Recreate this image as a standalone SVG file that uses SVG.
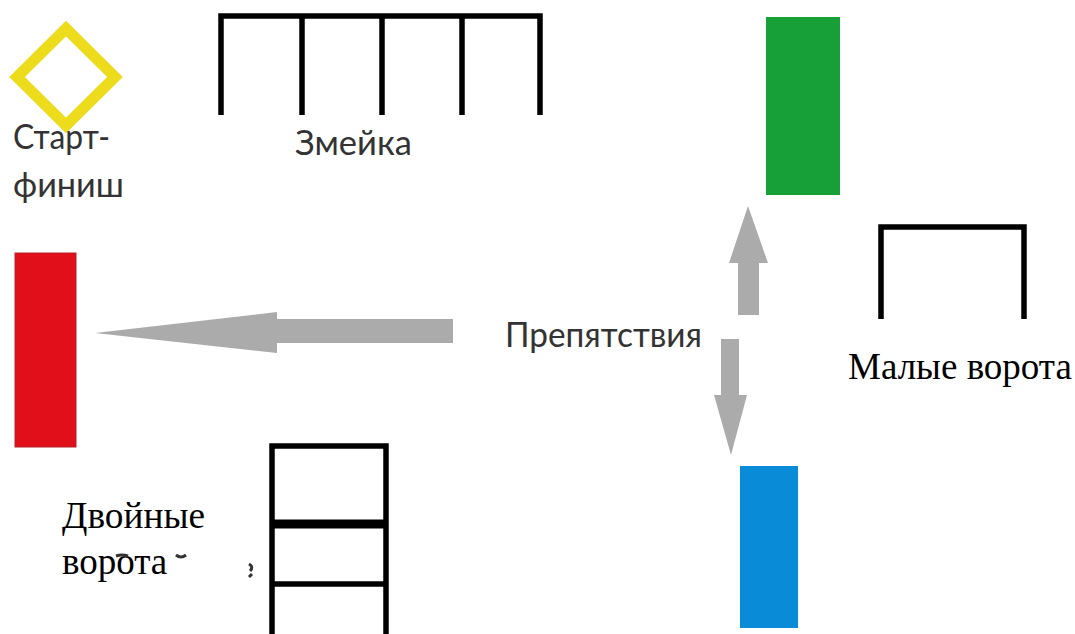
<svg xmlns="http://www.w3.org/2000/svg" width="1075" height="634" viewBox="0 0 1075 634">
<style>
.gate{fill:none;stroke:#000;stroke-width:5.5;stroke-linecap:butt;stroke-linejoin:miter}
.arrow{fill:#ababab}
.sans{font-family:Lato,"Noto Sans","Liberation Sans",sans-serif;font-size:34px;fill:#333}
.serif{font-family:"Liberation Serif",serif;font-size:37px;fill:#000}
</style>
<rect width="1075" height="634" fill="#fff"/>
<g id="start-finish">
<polygon points="66,28.5 115,77 66,125.5 17,77" fill="none" stroke="#eddc1c" stroke-width="11"/>
<text class="sans" x="13" y="149" textLength="97" lengthAdjust="spacingAndGlyphs">Старт-</text>
<text class="sans" x="13" y="197" textLength="111" lengthAdjust="spacingAndGlyphs">финиш</text>
</g>
<g id="snake">
<path class="gate" d="M221,115V16H540V115M302,16V115M382,16V115M462,16V115"/>
<text class="sans" x="295" y="155" textLength="117" lengthAdjust="spacingAndGlyphs">Змейка</text>
</g>
<g id="green-post"><rect x="766" y="17" width="74" height="178" fill="#18a038"/></g>
<g id="small-gate">
<path class="gate" d="M881,319V227H1024V319"/>
<text class="serif" x="848" y="379">Малые ворота</text>
</g>
<g id="red-post"><rect x="15" y="253" width="61" height="194" fill="#e10f1a" stroke="#b5202a" stroke-width="1"/></g>
<g id="obstacles"><text class="sans" x="505" y="347" textLength="197" lengthAdjust="spacingAndGlyphs">Препятствия</text></g>
<g id="blue-post"><rect x="740" y="466" width="58" height="162" fill="#0a8bd8"/></g>
<g id="double-gate">
<path class="gate" d="M272,634V446H386V634M272,524H386" />
<path d="M272,524H386" stroke="#000" stroke-width="9" fill="none"/>
<path class="gate" d="M272,584H386"/>
<text class="serif" x="62" y="528" textLength="143" lengthAdjust="spacingAndGlyphs">Двойные</text>
<text class="serif" x="62" y="574">ворота</text>
<path d="M116,556q6,-2 12,0M176,555q5,4 10,0M249,564q5,3 1,7M249,577l3,-3" stroke="#333" stroke-width="3" fill="none"/>
</g>
<g id="connectors">
<polygon class="arrow" points="453,319 453,343 277,343 277,353 95,333 277,312 277,319"/>
<polygon class="arrow" points="738,315 738,263 729,263 748,206 768,263 759,263 759,315"/>
<polygon class="arrow" points="721,339 739,339 739,395 747,395 731,455 714,395 721,395"/>
</g>
</svg>
